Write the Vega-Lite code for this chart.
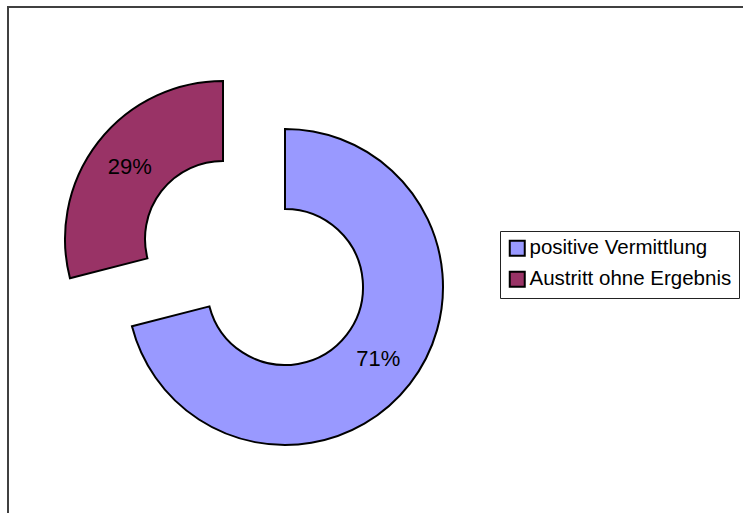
{
  "$schema": "https://vega.github.io/schema/vega-lite/v6.json",
  "width": 760,
  "height": 530,
  "autosize": "none",
  "padding": {"left": 8, "top": 7, "right": 0, "bottom": 0},
  "background": "white",
  "config": {
    "view": {"stroke": null},
    "font": "Liberation Sans"
  },
  "data": {
    "values": [
      {"Kategorie": "positive Vermittlung", "Anteil": 0.71},
      {"Kategorie": "Austritt ohne Ergebnis", "Anteil": 0.29}
    ]
  },
  "transform": [
    {"window": [{"op": "sum", "field": "Anteil", "as": "t1"}], "sort": [{"field": "Anteil", "order": "descending"}], "frame": [null, 0]},
    {"calculate": "datum.t1 - datum.Anteil", "as": "t0"},
    {"calculate": "(datum.t0 + datum.t1) / 2", "as": "tmid"}
  ],
  "layer": [
    {
      "data": {"values": [{"Rahmen": "Diagrammfläche"}]},
      "transform": [],
      "mark": {"type": "rect", "x": 0, "y": 0, "x2": "width", "y2": "height", "fill": null, "stroke": "#404040", "strokeWidth": 2},
      "encoding": {}
    },
    {
      "transform": [{"filter": "datum.Kategorie === 'positive Vermittlung'"}],
      "layer": [
        {
          "mark": {"type": "arc", "x": 277, "y": 280, "radius": 158, "radius2": 78, "stroke": "black", "strokeWidth": 2},
          "encoding": {
            "theta": {"field": "t0", "type": "quantitative", "scale": {"domain": [0, 1]}},
            "theta2": {"field": "t1"},
            "color": {
              "field": "Kategorie", "type": "nominal",
              "scale": {"domain": ["positive Vermittlung", "Austritt ohne Ergebnis"], "range": ["#9999FF", "#993366"]},
              "legend": {
                "title": null, "orient": "none", "legendX": 492, "legendY": 224,
                "fillColor": "white", "strokeColor": "#222",
                "padding": 7, "symbolType": "square", "symbolSize": 225,
                "symbolStrokeColor": "black", "symbolStrokeWidth": 2, "symbolOpacity": 1,
                "labelFontSize": 20.5, "labelColor": "black", "labelOffset": 2, "rowPadding": 7,
                "labelLimit": 400
              }
            }
          }
        },
        {
          "mark": {"type": "text", "x": 277, "y": 280, "radius": 118, "fontSize": 22, "color": "black"},
          "encoding": {
            "theta": {"field": "tmid", "type": "quantitative", "scale": {"domain": [0, 1]}},
            "text": {"field": "Anteil", "type": "quantitative", "format": ".0%"}
          }
        }
      ]
    },
    {
      "transform": [{"filter": "datum.Kategorie === 'Austritt ohne Ergebnis'"}],
      "layer": [
        {
          "mark": {"type": "arc", "x": 215, "y": 232, "radius": 158, "radius2": 78, "stroke": "black", "strokeWidth": 2},
          "encoding": {
            "theta": {"field": "t0", "type": "quantitative", "scale": {"domain": [0, 1]}},
            "theta2": {"field": "t1"},
            "color": {"field": "Kategorie", "type": "nominal"}
          }
        },
        {
          "mark": {"type": "text", "x": 215, "y": 232, "radius": 118, "fontSize": 22, "color": "black"},
          "encoding": {
            "theta": {"field": "tmid", "type": "quantitative", "scale": {"domain": [0, 1]}},
            "text": {"field": "Anteil", "type": "quantitative", "format": ".0%"}
          }
        }
      ]
    }
  ]
}
